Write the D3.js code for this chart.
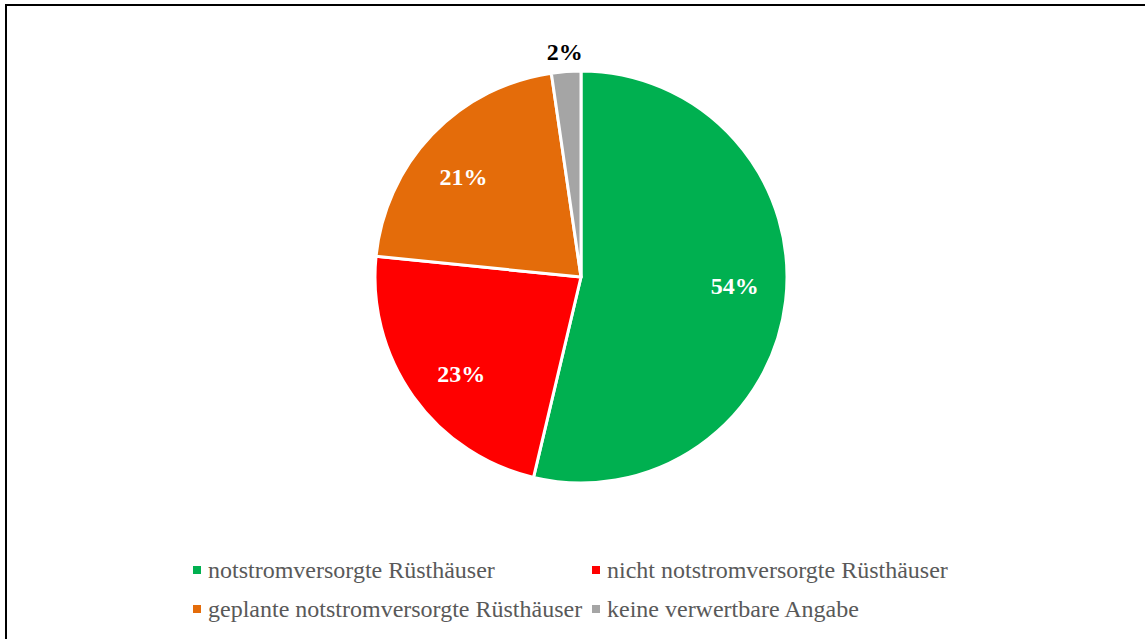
<!DOCTYPE html>
<html><head><meta charset="utf-8">
<script src="https://cdn.jsdelivr.net/npm/d3@7/dist/d3.min.js"></script>
<style>html,body{margin:0;padding:0;background:#fff;overflow:hidden}</style>
</head><body>
<svg id="c" width="1145" height="639"></svg>
<script>
const categories = ["notstromversorgte Rüsthäuser","nicht notstromversorgte Rüsthäuser","geplante notstromversorgte Rüsthäuser","keine verwertbare Angabe"];
const values = [53.7, 22.9, 21.1, 2.3];
const colors = ["#00B050","#FF0000","#E46C0A","#A5A5A5"];
const labelColors = ["#fff","#fff","#fff","#000"];

const svg = d3.select("#c");
svg.append("rect").attr("x",6).attr("y",5).attr("width",1200).attr("height",700)
  .attr("fill","none").attr("stroke","#000").attr("stroke-width",2);

const cx = 581, cy = 277, R = 206;
const pie = d3.pie().sort(null).value(d=>d)(values);
const arc = d3.arc().innerRadius(0).outerRadius(R);
const g = svg.append("g").attr("transform",`translate(${cx},${cy})`);
g.selectAll("path").data(pie).join("path")
  .attr("d",arc).attr("fill",(d,i)=>colors[i])
  .attr("stroke","#fff").attr("stroke-width",3).attr("stroke-linejoin","round");

function labelPos(d,i){
  const inside = i!==3;
  const r = inside ? 154 : 226;
  const a = (d.startAngle+d.endAngle)/2 - (inside?0.06:0);
  return [Math.sin(a)*r, -Math.cos(a)*r];
}
g.selectAll("text").data(pie).join("text")
  .attr("transform",(d,i)=>`translate(${labelPos(d,i)})`)
  .attr("text-anchor","middle").attr("dy","0.33em")
  .attr("font-family","'Liberation Serif','Times New Roman',serif")
  .attr("font-weight","bold").attr("font-size",24)
  .attr("fill",(d,i)=>labelColors[i])
  .text(d=>Math.round(d.data)+"%");

const legendPos = [[193,570],[592,570],[193,609],[592,609]];
const lg = svg.append("g");
categories.forEach((c,i)=>{
  const [x,y]=legendPos[i];
  lg.append("rect").attr("x",x).attr("y",y-4).attr("width",8).attr("height",8).attr("fill",colors[i]);
  lg.append("text").attr("x",x+15).attr("y",y).attr("dy","0.33em")
    .attr("font-family","'Liberation Serif','Times New Roman',serif")
    .attr("font-size",24).attr("fill","#595959").text(c);
});
</script>
</body></html>
